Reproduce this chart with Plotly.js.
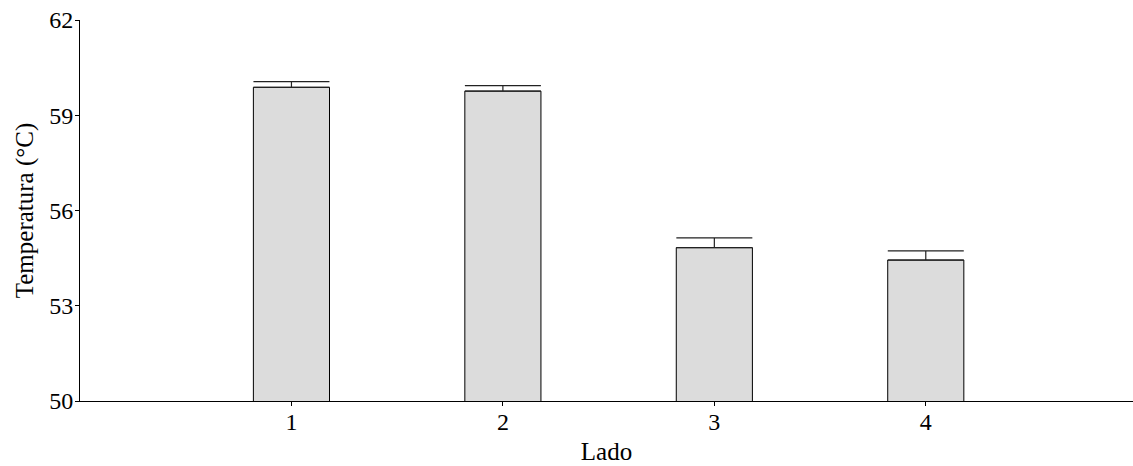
<!DOCTYPE html>
<html>
<head>
<meta charset="utf-8">
<script src="https://cdn.plot.ly/plotly-3.0.1.min.js"></script>
<style>html,body{margin:0;padding:0;background:#fff;}#chart{width:1133px;height:466px;}</style>
</head>
<body>
<div id="chart"></div>
<script>
const categories = [1, 2, 3, 4];
const tickLabels = ["1", "2", "3", "4"];
const temperatures = [59.88, 59.76, 54.83, 54.44];
const errors = [0.18, 0.17, 0.31, 0.29];
const errorsMinus = [0, 0, 0, 0];
const yTicks = [50, 53, 56, 59, 62];

const font = "Liberation Serif, Times New Roman, serif";

Plotly.newPlot("chart", [{
  type: "bar",
  x: categories,
  y: temperatures,
  width: 0.36,
  marker: {color: "#dcdcdc", line: {color: "#000", width: 1}},
  error_y: {type: "data", array: errors, arrayminus: errorsMinus, symmetric: false,
            color: "#222", thickness: 1.2, width: 38},
  hoverinfo: "none"
}], {
  width: 1133, height: 466,
  margin: {l: 80, r: 0, t: 20, b: 65},
  paper_bgcolor: "#fff", plot_bgcolor: "#fff",
  showlegend: false,
  font: {family: font, size: 24, color: "#000"},
  xaxis: {
    range: [0, 4.98], tickmode: "array", tickvals: categories, ticktext: tickLabels,
    showline: true, linecolor: "#000", linewidth: 1, showgrid: false, zeroline: false,
    ticks: "outside", ticklen: 4, tickcolor: "#000", ticklabelstandoff: -5,
    tickfont: {family: font, size: 24},
    title: {text: "Lado", font: {family: font, size: 25}, standoff: 8}
  },
  yaxis: {
    range: [50, 62], tickmode: "array", tickvals: yTicks,
    showline: true, linecolor: "#000", linewidth: 1, showgrid: false, zeroline: false,
    ticks: "outside", ticklen: 4, tickcolor: "#000", ticklabelstandoff: -3,
    tickfont: {family: font, size: 24},
    title: {text: "Temperatura (°C)", font: {family: font, size: 25}, standoff: 8}
  }
}, {displayModeBar: false, staticPlot: true});
</script>
</body>
</html>
